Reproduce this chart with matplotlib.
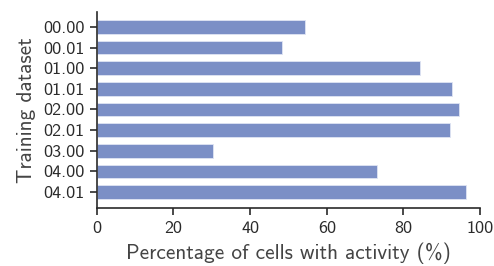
import matplotlib
matplotlib.use("Agg")
import matplotlib.pyplot as plt

datasets = ["00.00", "00.01", "01.00", "01.01", "02.00", "02.01", "03.00", "04.00", "04.01"]
percent_active = [54.3, 48.4, 84.4, 92.6, 94.5, 92.1, 30.2, 73.2, 96.2]

plt.rcParams['font.family'] = ['cmss10', 'DejaVu Sans']
plt.rcParams['axes.unicode_minus'] = False
fig = plt.figure(figsize=(4.94, 2.66), dpi=100)
ax = fig.add_axes([0.196, 0.218, 0.776, 0.737])

ypos = list(range(len(datasets)))
ax.barh(ypos, percent_active, height=0.66, color="#7b8fc6", edgecolor="#dfe4f3", linewidth=0.6)
ax.set_yticks(ypos)
ax.set_yticklabels(datasets, fontsize=13, color="#2a2a2a")
ax.set_ylim(8.78, -0.73)
ax.set_xlim(0, 100)
ax.set_xticks([0, 20, 40, 60, 80, 100])
ax.tick_params(axis="x", labelsize=13, colors="#2a2a2a", length=5, width=1.2, direction="out", pad=4)
ax.tick_params(axis="y", length=5, width=1.2, colors="#2a2a2a", pad=4)
for s in ["top", "right"]:
    ax.spines[s].set_visible(False)
for s in ["left", "bottom"]:
    ax.spines[s].set_linewidth(1.2)
    ax.spines[s].set_color("#2a2a2a")
ax.set_xlabel("Percentage of cells with activity (%)", fontsize=15.3, color="#444444", labelpad=5)
ax.set_ylabel("Training dataset", fontsize=15.3, color="#444444", labelpad=5)
fig.savefig("out.png", dpi=100)
